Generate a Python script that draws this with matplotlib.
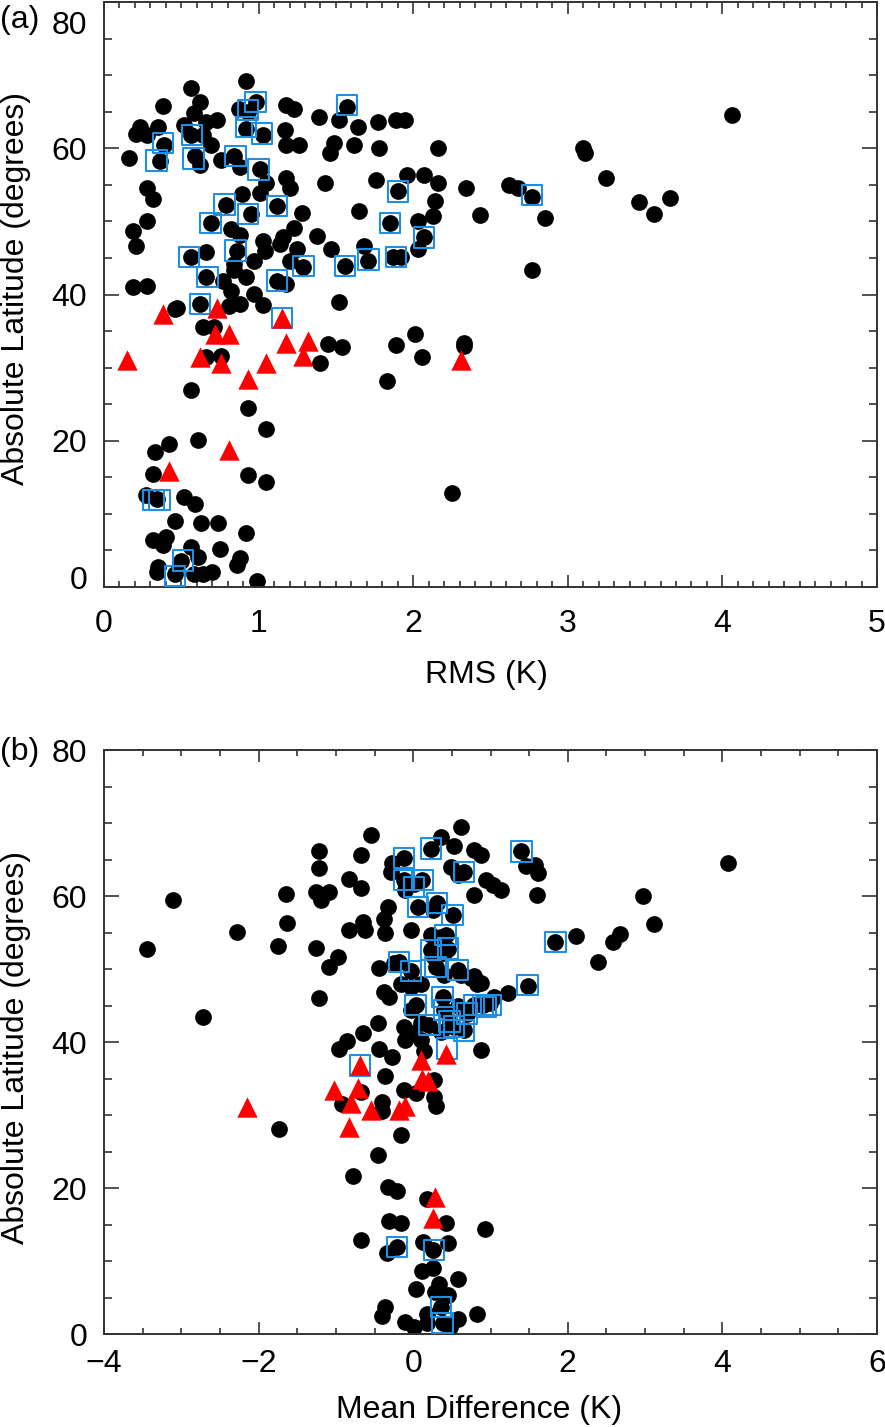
import numpy as np
import matplotlib
matplotlib.use("Agg")
import matplotlib.pyplot as plt
from matplotlib.ticker import MultipleLocator
from matplotlib.transforms import ScaledTranslation

plt.rcParams['font.family'] = ['Liberation Sans', 'DejaVu Sans']

# ---- panel (a): RMS vs absolute latitude ----
a_dot_x = [0.16, 0.23, 0.21, 0.28, 0.35, 0.38, 0.36, 0.28, 0.32, 0.19, 0.28, 0.21, 0.19, 0.28, 0.47,
           0.56, 0.62, 0.58, 0.52, 0.56, 0.66, 0.73, 0.64, 0.69, 0.59, 0.62, 0.76, 0.84, 0.88, 0.92,
           0.87, 0.98, 0.93, 0.92, 1.03, 1.01, 1.05, 1.01, 0.89, 0.79, 0.69, 0.82, 0.88, 0.95, 0.86,
           0.84, 0.97, 1.03, 1.04, 0.66, 0.56, 0.66, 0.77, 0.84, 0.92, 0.82, 0.88, 0.97, 0.62, 1.03,
           1.12, 1.18, 1.23, 1.17, 1.18, 1.26, 1.18, 1.20, 1.28, 1.23, 1.16, 1.14, 1.25, 1.20, 1.12,
           1.18, 1.29, 1.39, 1.38, 1.43, 1.47, 1.49, 1.46, 1.52, 1.57, 1.64, 1.62, 1.56, 1.65, 1.68,
           1.71, 1.52, 1.77, 1.78, 1.76, 1.89, 1.95, 1.90, 1.85, 1.96, 1.87, 2.03, 2.03, 2.07, 2.16,
           2.16, 2.14, 2.13, 2.07, 1.92, 0.39,
           0.46, 0.81, 0.64, 0.71, 0.66, 0.76, 1.40, 1.45, 1.54, 1.89, 2.01, 2.06, 1.83, 0.56, 0.93,
           1.05, 0.61, 0.42, 0.33, 0.32, 0.93, 1.05, 0.27, 0.34, 0.52, 0.59, 0.46, 0.63, 0.74, 0.92,
           0.32, 0.40, 0.38, 0.56, 0.61, 0.75, 0.88, 0.86, 0.35, 0.34, 0.58, 0.64, 0.70, 0.99, 2.25,
           0.50, 0.46,
           2.34, 2.43, 2.62, 2.68, 2.77, 2.85, 3.10, 3.11, 3.25, 3.46, 3.56, 3.66, 4.06, 2.77, 2.33,
           2.33]
a_dot_y = [58.6, 62.9, 61.9, 61.8, 62.9, 65.8, 58.2, 54.6, 53.0, 48.7, 50.0, 46.7, 41.0, 41.1, 38.1,
           68.2, 66.3, 64.8, 63.2, 61.8, 63.6, 63.9, 61.8, 60.5, 58.9, 57.7, 58.4, 58.9, 57.5, 69.2,
           65.4, 66.3, 65.0, 62.7, 61.8, 57.1, 55.3, 53.9, 53.7, 52.3, 49.8, 48.9, 48.2, 51.0, 46.0,
           44.2, 44.6, 47.3, 46.0, 45.8, 45.1, 42.4, 41.9, 43.3, 42.4, 40.5, 38.7, 40.1, 38.7, 38.5,
           52.1, 65.9, 65.4, 62.5, 60.5, 60.5, 55.9, 54.6, 51.2, 49.1, 47.8, 46.9, 46.2, 44.6, 41.9,
           41.5, 43.7, 64.3, 48.0, 55.3, 46.2, 60.7, 59.3, 63.9, 65.7, 62.9, 60.5, 43.9, 51.4, 46.7,
           44.6, 39.0, 63.6, 60.0, 55.7, 63.9, 63.9, 54.1, 49.8, 56.4, 45.1, 50.1, 46.2, 56.4, 55.3,
           60.0, 52.8, 50.7, 47.8, 45.1, 60.5,
           38.0, 38.4, 35.5, 35.5, 31.4, 31.6, 30.7, 33.2, 32.8, 33.1, 34.6, 31.5, 28.2, 26.9, 24.5,
           21.6, 20.1, 19.6, 18.4, 15.5, 15.3, 14.3, 12.6, 12.0, 12.3, 11.4, 9.0, 8.7, 8.7, 7.4,
           6.4, 6.8, 5.7, 5.5, 4.1, 5.2, 3.9, 3.0, 2.7, 2.1, 1.8, 1.8, 2.1, 0.8, 12.9,
           3.6, 1.8,
           54.6, 50.9, 55.0, 54.6, 53.4, 50.4, 60.0, 59.4, 56.0, 52.7, 51.0, 53.2, 64.6, 43.3, 33.4,
           32.9]
a_box_x = [0.38, 0.34, 0.57, 0.58, 0.85, 0.93, 0.98, 0.92, 1.02, 1.00, 0.78, 0.69, 0.93, 1.12, 0.55,
           0.67, 0.85, 1.12, 1.29, 1.56, 1.71, 1.90, 1.85, 1.89, 2.07, 1.57, 0.62, 2.77, 1.15, 0.32,
           0.36, 0.51, 0.46]
a_box_y = [60.7, 58.3, 61.8, 58.6, 58.9, 65.2, 66.3, 62.9, 62.0, 57.1, 52.3, 49.8, 51.0, 52.1, 45.1,
           42.4, 46.0, 41.9, 43.9, 43.9, 44.8, 54.1, 49.8, 45.1, 47.8, 65.9, 38.7, 53.6, 36.8, 11.9,
           11.9, 3.6, 1.5]
a_tri_x = [0.15, 0.38, 0.73, 1.15, 0.72, 0.81, 1.18, 1.32, 0.62, 0.76, 1.29, 1.05, 0.93, 0.81, 0.42, 2.31]
a_tri_y = [31.1, 37.4, 38.1, 36.8, 34.6, 34.6, 33.4, 33.6, 31.4, 30.7, 31.6, 30.6, 28.4, 18.8, 15.9, 31.0]

# ---- panel (b): mean difference vs absolute latitude ----
b_dot_x = [-3.45, -3.11, -2.72, -2.28, -1.75, -1.64, -1.63, -1.22, -1.22, -1.26, -1.09, -1.19, -1.26, -0.97,
           -1.09, -1.22, -0.83, -0.68, -0.68, -0.55, -0.83, -0.65, -0.63, -0.96, -0.85, -0.65, -0.46, -0.44,
           -0.38, -0.33, -0.38, -0.36, -0.29, -0.27, -0.44, -0.27, -0.36, -1.73, -0.92, -0.68, -0.41, -0.40,
           -0.31,
           0.62, 0.36, 0.23, 0.53, 0.79, 0.88, -0.12, 1.40, 0.49, 0.58, 0.66, 1.46, 1.58, 1.61, -0.12,
           0.12, 0.01, -0.10, 0.79, 0.94, 1.03, 1.14, 1.60, 0.06, 0.31, 0.51, 0.25, -0.03, 0.23, 0.36,
           0.42, 0.23, 0.45, 0.27, 0.40, -0.18, -0.03, 0.29, 0.58, 0.62, 0.79, -0.25, 0.40, 0.75, 0.83,
           -0.16, -0.03, 0.10, -0.03, 0.03, 0.38, 0.40, 0.58, 0.79, 0.90, 0.99, 1.05, 1.22, 0.70, -0.12,
           -0.03, 0.10, 0.21, 0.47, 0.53, 0.66, -0.10, 0.10, 0.36, 0.14, 0.88, -0.12, 0.03, 0.27, 0.27,
           0.29, -0.16, 0.88, 1.49,
           2.97, 3.11, 2.10, 1.84, 2.59, 2.67, 2.39, 4.07,
           -0.46, -0.78, -0.32, -0.21, 0.18, -0.31, -0.16, 0.43, 0.93, -0.67, -0.21, -0.34, 0.13, 0.45,
           0.26, 0.11, 0.26, 0.58, 0.03, 0.33, 0.28, 0.45, -0.36, -0.41, 0.83, -0.11, 0.01, 0.18, 0.18,
           0.58, 0.48, 0.36, 0.38]
b_dot_y = [52.7, 59.5, 43.4, 55.1, 53.2, 60.3, 56.3, 66.1, 63.8, 60.6, 60.6, 59.5, 52.9, 51.6,
           50.3, 46.0, 62.3, 61.1, 65.6, 68.4, 55.4, 56.5, 55.4, 39.0, 40.2, 41.2, 42.6, 50.1,
           46.9, 58.5, 56.8, 54.9, 63.3, 64.5, 39.0, 38.0, 35.4, 28.1, 31.5, 33.2, 31.8, 30.5,
           46.2,
           69.5, 68.1, 66.5, 66.8, 66.3, 65.6, 65.2, 66.1, 64.0, 62.9, 63.3, 64.1, 64.3, 63.2, 62.2,
           62.2, 61.7, 60.8, 60.1, 62.2, 61.5, 60.8, 60.2, 58.5, 59.0, 57.4, 58.1, 55.3, 54.7, 54.4,
           54.7, 52.6, 52.8, 51.7, 52.2, 51.0, 49.7, 50.3, 49.9, 49.2, 49.0, 50.8, 49.2, 48.7, 48.0,
           48.0, 47.6, 48.0, 44.4, 45.1, 46.2, 44.4, 44.9, 45.1, 45.1, 45.3, 46.2, 46.7, 43.9, 42.1,
           41.2, 42.6, 42.3, 42.8, 42.1, 41.6, 40.3, 40.3, 41.4, 38.7, 38.9, 33.4, 33.0, 34.8, 32.5,
           31.2, 27.3, 48.1, 47.7,
           60.0, 56.2, 54.5, 53.7, 53.7, 54.8, 51.0, 64.5,
           24.5, 21.7, 20.2, 19.6, 18.5, 15.5, 15.2, 15.2, 14.4, 12.9, 11.9, 11.1, 12.6, 12.4,
           11.5, 8.6, 9.0, 7.5, 6.2, 6.9, 5.8, 5.3, 3.7, 2.4, 2.8, 1.7, 1.0, 2.8, 1.5,
           2.1, 1.0, 3.7, 1.5]
b_box_x = [0.23, -0.12, 1.40, 0.66, -0.12, 0.12, 0.01, 0.06, 0.31, 0.51, 0.42, 0.23, 0.45, -0.18,
           -0.03, 0.29, 0.58, 1.48, 1.84, 1.01, 0.94, 0.03, 0.38, 0.40, 0.79, 0.90, 0.70, 0.21,
           0.47, 0.53, 0.66, 0.44, -0.69, -0.21, 0.27, 0.36, 0.38]
b_box_y = [66.5, 65.2, 66.1, 63.3, 62.2, 62.2, 61.2, 58.5, 59.0, 57.4, 54.7, 52.6, 52.8, 51.0,
           49.7, 50.3, 49.9, 47.8, 53.7, 45.1, 44.8, 45.1, 46.2, 44.4, 45.1, 45.1, 43.9, 42.3,
           42.8, 42.1, 41.6, 39.1, 36.8, 11.9, 11.5, 3.7, 1.5]
b_tri_x = [-2.15, -1.03, -0.69, -0.72, -0.81, -0.55, -0.83, -0.18, -0.10, 0.10, 0.12, 0.19, 0.42, 0.28, 0.25]
b_tri_y = [31.1, 33.4, 36.8, 33.7, 31.6, 30.7, 28.4, 30.7, 31.2, 37.5, 35.0, 34.6, 38.4, 18.8, 15.9]

lat_ticks = [0, 20, 40, 60, 80]

FS = 23
BLUE = '#1f8fe6'
SPINE = '#333333'


def draw_panel(ax, dx, dy, bx, by, tx, ty):
    ax.scatter(dx, dy, s=145, c='black', marker='o', linewidths=0, zorder=2)
    ax.scatter(bx, by, s=215, facecolors='none', edgecolors=BLUE, marker='s', linewidths=1.5, zorder=3)
    ax.scatter(tx, ty, s=215, c='red', marker='^', linewidths=0, zorder=4)
    ax.set_ylim(0, 80)
    ax.set_yticks(lat_ticks)
    ax.yaxis.set_minor_locator(MultipleLocator(5))
    for sp in ax.spines.values():
        sp.set_linewidth(1.4)
        sp.set_color(SPINE)
    ax.tick_params(which='both', direction='in', top=True, right=True, color=SPINE, width=1.2,
                   labelsize=FS)
    ax.tick_params(axis='y', which='major', length=11, pad=12)
    ax.tick_params(axis='y', which='minor', length=6)
    ax.tick_params(axis='x', which='major', length=8.5)
    ax.tick_params(axis='x', which='minor', length=4.5)


fig = plt.figure(figsize=(8.85, 14.27), dpi=100)
ax1 = fig.add_axes([104 / 885, 1 - 587 / 1427, 773 / 885, 585 / 1427])
ax2 = fig.add_axes([104 / 885, 1 - 1334 / 1427, 773 / 885, 584 / 1427])

draw_panel(ax1, a_dot_x, a_dot_y, a_box_x, a_box_y, a_tri_x, a_tri_y)
ax1.set_xlim(0, 5)
ax1.xaxis.set_major_locator(MultipleLocator(1))
ax1.xaxis.set_minor_locator(MultipleLocator(0.1))
ax1.tick_params(axis='x', which='major', pad=16)
ax1.set_xlabel('RMS (K)', fontsize=FS)
ax1.xaxis.set_label_coords(0.495, -0.125)
ax1.set_ylabel('Absolute Latitude (degrees)', fontsize=FS)
ax1.yaxis.set_label_coords(-0.095, 0.51)

draw_panel(ax2, b_dot_x, b_dot_y, b_box_x, b_box_y, b_tri_x, b_tri_y)
ax2.set_xlim(-4, 6)
ax2.xaxis.set_major_locator(MultipleLocator(2))
ax2.xaxis.set_minor_locator(MultipleLocator(0.5))
ax2.tick_params(axis='x', which='major', pad=11)
ax2.set_xlabel('Mean Difference (K)', fontsize=FS)
ax2.xaxis.set_label_coords(0.485, -0.105)
ax2.set_ylabel('Absolute Latitude (degrees)', fontsize=FS)
ax2.yaxis.set_label_coords(-0.095, 0.49)

# end labels of panel (a) are pulled inside the frame
yt = ax1.yaxis.get_major_ticks()
yt[0].label1.set_transform(yt[0].label1.get_transform()
                           + ScaledTranslation(0, 10 / 100, fig.dpi_scale_trans))
yt[-1].label1.set_transform(yt[-1].label1.get_transform()
                            + ScaledTranslation(0, -20 / 100, fig.dpi_scale_trans))

fig.text(0.0, 1 - 20 / 1427, '(a)', fontsize=FS, va='center', ha='left')
fig.text(0.0, 1 - 752 / 1427, '(b)', fontsize=FS, va='center', ha='left')

fig.savefig('out.png', dpi=100)
